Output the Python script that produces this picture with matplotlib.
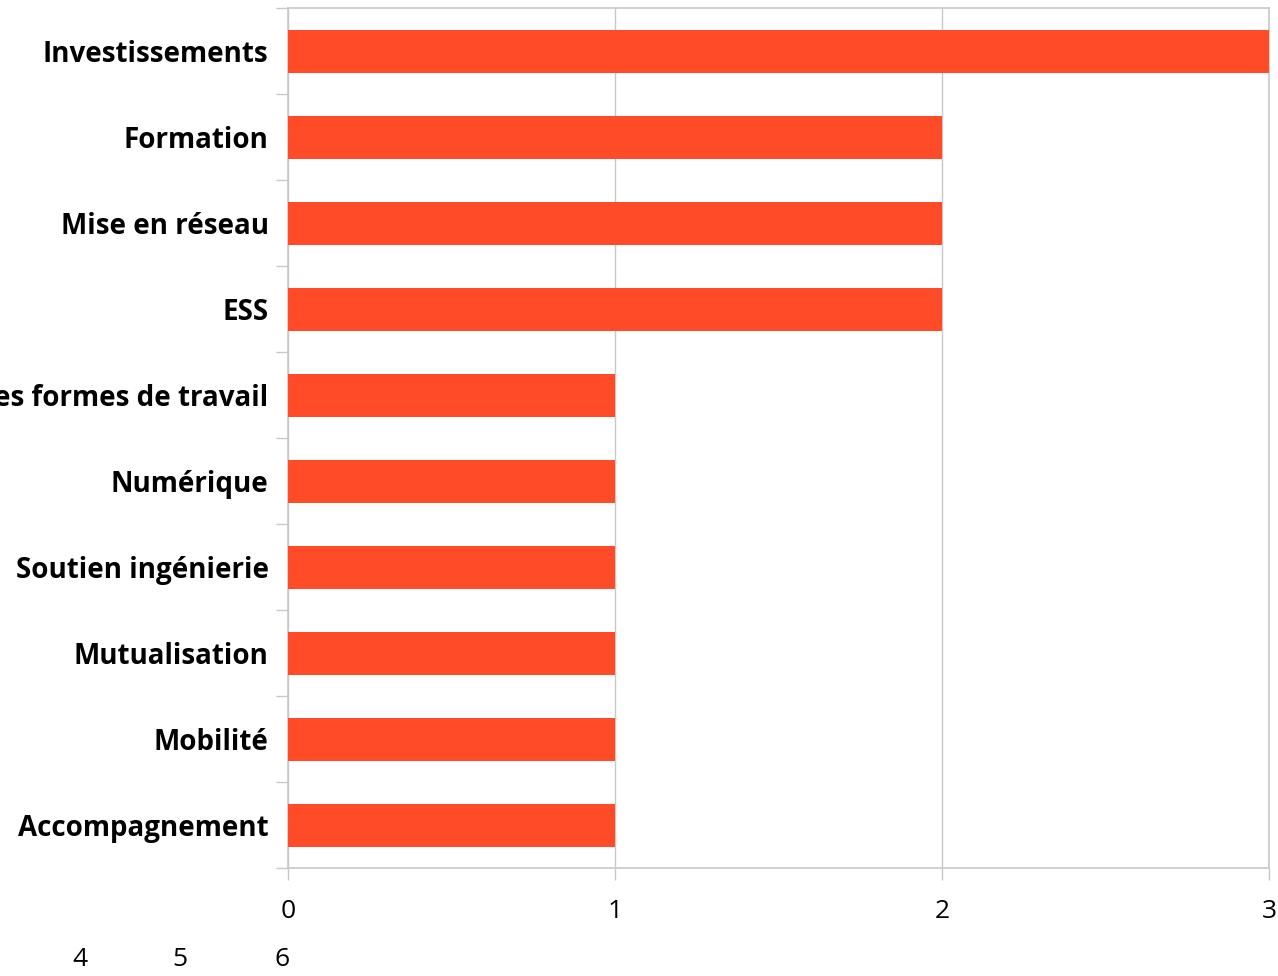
import matplotlib
matplotlib.use("Agg")
import matplotlib.pyplot as plt
from matplotlib.ticker import FixedLocator
from matplotlib.transforms import ScaledTranslation

categories = ["Investissements", "Formation", "Mise en réseau", "ESS",
              "Nouvelles formes de travail", "Numérique", "Soutien ingénierie",
              "Mutualisation", "Mobilité", "Accompagnement"]
values = [3, 2, 2, 2, 1, 1, 1, 1, 1, 1]
xticks = [0, 1, 2, 3]
extra_tick_labels = ["4", "5", "6"]

bar_color = "#FF4B28"
grid_color = "#C8C8C8"

plt.rcParams['font.family'] = ['Open Sans', 'DejaVu Sans']

fig = plt.figure(figsize=(12.78, 9.76), dpi=100)
ax = fig.add_axes([288/1278, 1 - 868/976, (1269-288)/1278, (868-8)/976])

n = len(categories)
ypos = list(range(n))[::-1]
ax.barh(ypos, values, height=0.5, color=bar_color, zorder=3)

ax.set_xlim(0, 3)
ax.set_ylim(-0.5, n - 0.5)
ax.set_xticks(xticks)
ax.set_xticklabels([str(t) for t in xticks], fontsize=19)
ax.tick_params(axis='x', length=8.6, width=1, color=grid_color, pad=14, labelcolor='black')

ax.set_yticks(ypos)
ax.set_yticklabels(categories, fontsize=20, fontweight='bold')
shift = ScaledTranslation(0, -4/100, fig.dpi_scale_trans)
for t in ax.get_yticklabels():
    t.set_transform(t.get_transform() + shift)
ax.tick_params(axis='y', which='major', length=0, pad=14)
ax.yaxis.set_minor_locator(FixedLocator([i - 0.5 for i in range(n + 1)]))
ax.tick_params(axis='y', which='minor', length=8.6, width=1, color=grid_color)

ax.grid(axis='x', color=grid_color, linewidth=1, zorder=0)
for s in ax.spines.values():
    s.set_color(grid_color)
    s.set_linewidth(1.2)

for lbl, xp in zip(extra_tick_labels, [80, 180, 282]):
    fig.text(xp/1278, 1 - 960/976, lbl, fontsize=19, ha='center', va='center')

fig.savefig("out.png", dpi=100)
